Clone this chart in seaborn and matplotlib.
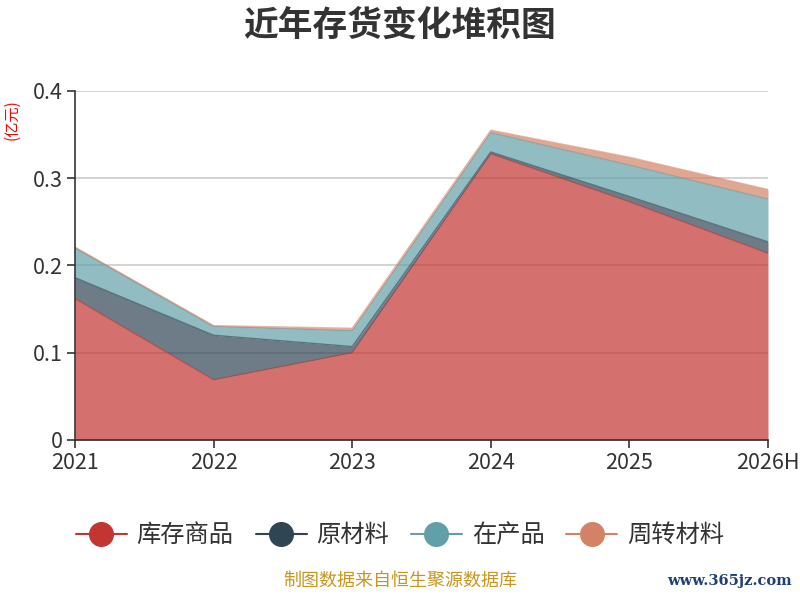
import numpy as np
import pandas as pd
import matplotlib
matplotlib.use("Agg")
import matplotlib.pyplot as plt
from matplotlib.lines import Line2D
import seaborn as sns

# -----------------------------
# data (亿元)
# -----------------------------
years = ["2021", "2022", "2023", "2024", "2025", "2026H"]
series_names = ["库存商品", "原材料", "在产品", "周转材料"]
stock_goods = [0.162, 0.069, 0.100, 0.328, 0.273, 0.214]
raw_material = [0.024, 0.051, 0.007, 0.002, 0.006, 0.013]
wip = [0.034, 0.010, 0.018, 0.022, 0.036, 0.049]
turnover = [0.001, 0.001, 0.003, 0.003, 0.009, 0.011]
colors = ["#c23531", "#2f4554", "#61a0a8", "#d48265"]

df = pd.DataFrame({
    "year": years,
    "库存商品": stock_goods,
    "原材料": raw_material,
    "在产品": wip,
    "周转材料": turnover,
})

sns.set_theme(style="white")
plt.rcParams["font.family"] = ["Noto Sans CJK SC", "DejaVu Sans"]

fig = plt.figure(figsize=(8, 6), dpi=100)
ax = fig.add_axes([0.09375, 0.2667, 0.86625, 0.5817])

x = np.arange(len(years))
ys = [df[n].values for n in series_names]
ax.stackplot(x, ys, colors=colors, alpha=0.7, linewidth=0)

# top edge of each band
cum = np.cumsum(np.vstack(ys), axis=0)
for i, n in enumerate(series_names):
    sns.lineplot(x=x, y=cum[i], ax=ax, color=colors[i], linewidth=1, alpha=0.6)

ax.set_xlim(0, len(years) - 1)
ax.set_ylim(0, 0.4)
ax.set_xticks(x)
ax.set_xticklabels(years)
ax.set_yticks([0, 0.1, 0.2, 0.3, 0.4])
ax.set_yticklabels(["0", "0.1", "0.2", "0.3", "0.4"])
ax.yaxis.grid(True, color="#cccccc", linewidth=1.2)
ax.xaxis.grid(False)
ax.set_axisbelow(True)

for side in ["top", "right"]:
    ax.spines[side].set_visible(False)
for side in ["left", "bottom"]:
    ax.spines[side].set_visible(True)
    ax.spines[side].set_color("#333333")
    ax.spines[side].set_linewidth(1.2)
ax.tick_params(axis="both", which="both", direction="out", length=6, width=1.2,
               color="#333333", labelsize=15.5, labelcolor="#333333", pad=3,
               left=True, bottom=True)

fig.text(0.015, 0.8, "(亿元)", color="red", fontsize=11, rotation=90,
         ha="center", va="center")
fig.text(0.5, 0.958, "近年存货变化堆积图", fontsize=25,
         fontweight="bold", color="#333333", ha="center", va="center")

handles = [Line2D([0], [0], color=c, marker="o", markersize=17, linewidth=1.5)
           for c in colors]
fig.legend(handles, series_names, loc="center", bbox_to_anchor=(0.5, 0.108),
           ncol=4, frameon=False, fontsize=17.5, handlelength=2.1,
           handletextpad=0.4, columnspacing=0.9, labelcolor="#333333")

fig.text(0.5, 0.017, "制图数据来自恒生聚源数据库", color="#c8961e", fontsize=13,
         ha="center", va="bottom")
fig.text(0.99, 0.02, "www.365jz.com", color="#1f3f7a", fontsize=10.5,
         family="DejaVu Serif", fontweight="bold", ha="right", va="bottom")

fig.savefig("out.png", dpi=100)
